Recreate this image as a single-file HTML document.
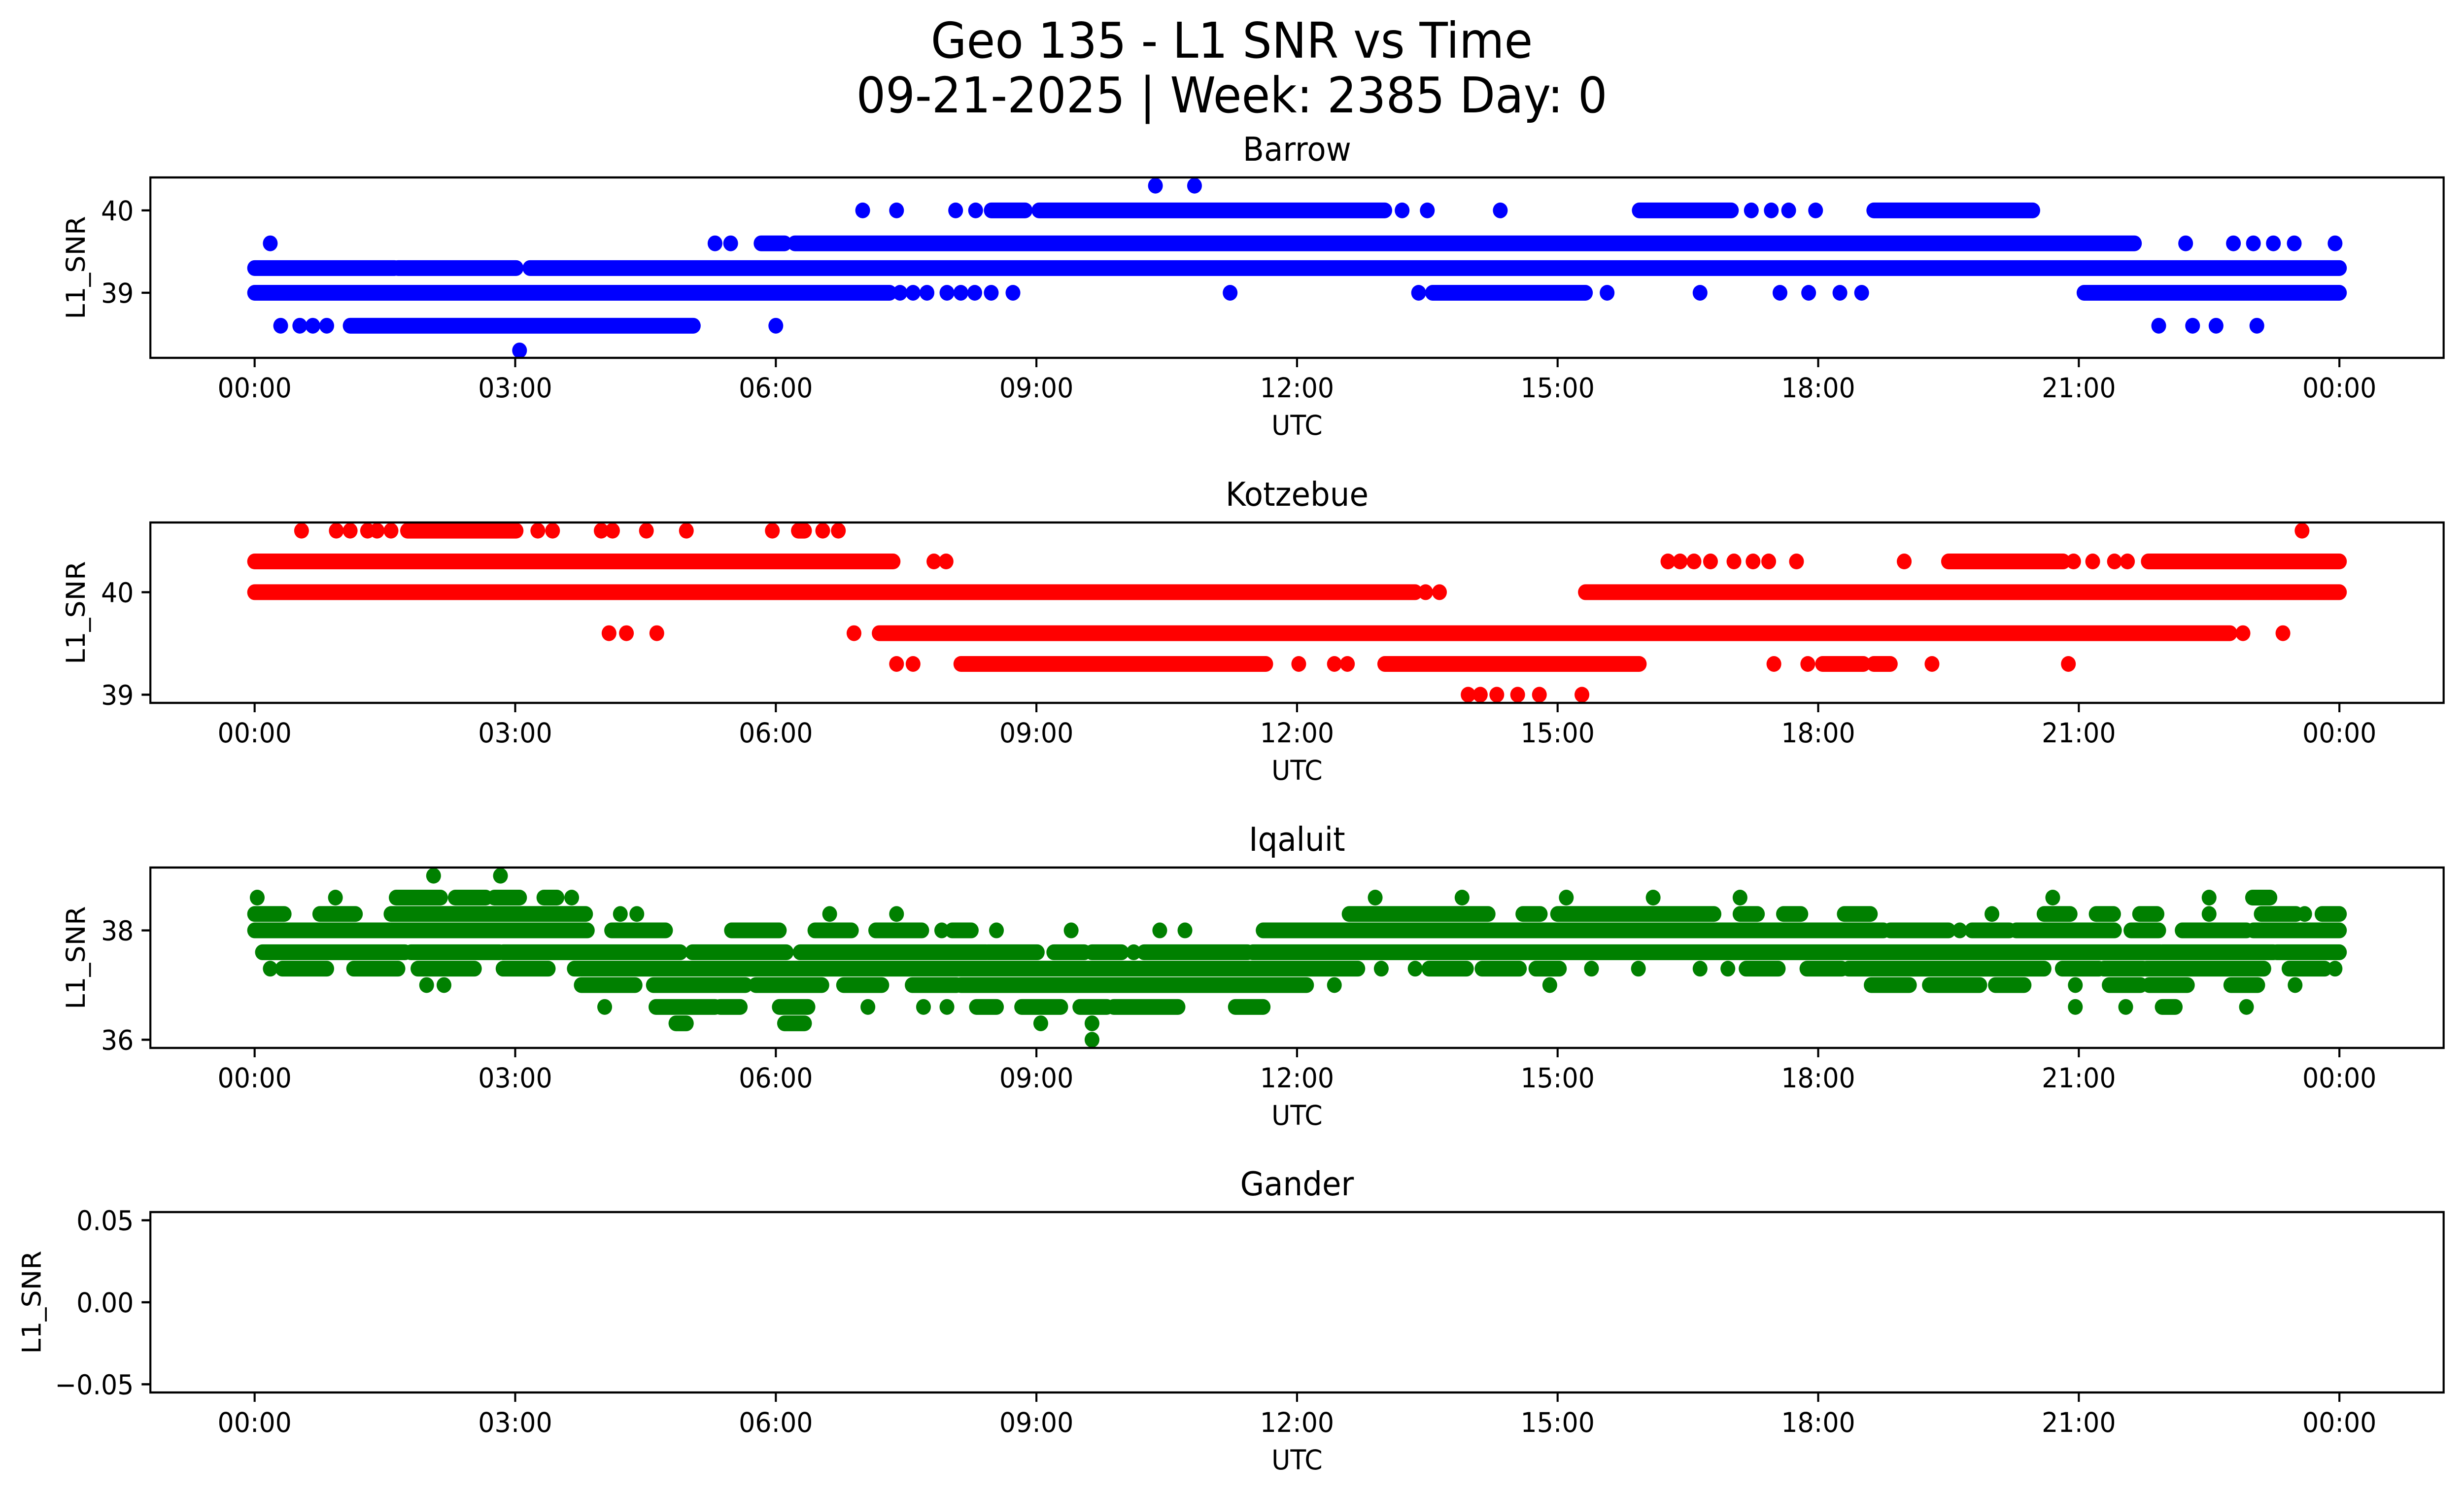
<!DOCTYPE html>
<html><head><meta charset="utf-8"><title>Geo 135 - L1 SNR vs Time</title>
<style>
html,body{margin:0;padding:0;background:#fff;width:100%;height:100%;overflow:hidden;}
svg{display:block;position:absolute;left:0;top:0;width:100vw;height:100vh;font-family:"DejaVu Sans","Liberation Sans",sans-serif;}
</style></head>
<body>
<svg id="fig" xmlns="http://www.w3.org/2000/svg" viewBox="0 0 5325 3033" preserveAspectRatio="none">
<rect x="0" y="0" width="5325" height="3033" fill="#fff"/>
<text x="2662" y="117" font-size="100" text-anchor="middle">Geo 135 - L1 SNR vs Time</text>
<text x="2662" y="228" font-size="100" text-anchor="middle">09-21-2025 | Week: 2385 Day: 0</text>
</svg>
<script>
// ---- data: segments [level, startHour, endHour]; single points have start == end ----
const stationNames = ["Barrow", "Kotzebue", "Iqaluit", "Gander"];
const stationColors = ["#0000ff", "#ff0000", "#008000", "#008000"];
const yLimits = [[38.21, 40.40], [38.92, 40.68], [35.85, 39.15], [-0.055, 0.055]];
const yTickValues = [[39, 40], [39, 40], [36, 38], [-0.05, 0, 0.05]];
const yTickLabels = [["39", "40"], ["39", "40"], ["36", "38"], ["\u22120.05", "0.00", "0.05"]];
const xTickHours = [0, 3, 6, 9, 12, 15, 18, 21, 24];
const xTickLabels = ["00:00", "03:00", "06:00", "09:00", "12:00", "15:00", "18:00", "21:00", "00:00"];

const barrowSegs = [
 [40.3,10.37,10.37],[40.3,10.82,10.82],
 [40.0,7.0,7.0],[40.0,7.39,7.39],[40.0,8.07,8.07],[40.0,8.3,8.3],[40.0,8.48,8.87],[40.0,9.03,13.01],[40.0,13.21,13.21],[40.0,13.5,13.5],[40.0,14.34,14.34],[40.0,15.94,17.0],[40.0,17.23,17.23],[40.0,17.46,17.46],[40.0,17.66,17.66],[40.0,17.97,17.97],[40.0,18.64,20.47],
 [39.6,0.18,0.18],[39.6,5.3,5.3],[39.6,5.48,5.48],[39.6,5.83,6.1],[39.6,6.22,21.64],[39.6,22.23,22.23],[39.6,22.78,22.78],[39.6,23.01,23.01],[39.6,23.24,23.24],[39.6,23.48,23.48],[39.6,23.95,23.95],
 [39.3,0,1.61],[39.3,1.65,3.01],[39.3,3.17,24],
 [39.0,0,7.31],[39.0,7.43,7.43],[39.0,7.58,7.58],[39.0,7.74,7.74],[39.0,7.97,7.97],[39.0,8.13,8.13],[39.0,8.29,8.29],[39.0,8.48,8.48],[39.0,8.73,8.73],[39.0,11.23,11.23],[39.0,13.4,13.4],[39.0,13.56,15.32],[39.0,15.57,15.57],[39.0,16.64,16.64],[39.0,17.56,17.56],[39.0,17.89,17.89],[39.0,18.25,18.25],[39.0,18.5,18.5],[39.0,21.06,24],
 [38.6,0.3,0.3],[38.6,0.52,0.52],[38.6,0.67,0.67],[38.6,0.83,0.83],[38.6,1.1,5.05],[38.6,6.0,6.0],[38.6,21.92,21.92],[38.6,22.31,22.31],[38.6,22.58,22.58],[38.6,23.05,23.05],
 [38.3,3.05,3.05]
];

const kotzebueSegs = [
 [40.6,0.54,0.54],[40.6,0.94,0.94],[40.6,1.1,1.1],[40.6,1.3,1.3],[40.6,1.41,1.41],[40.6,1.57,1.57],[40.6,1.76,3.01],[40.6,3.26,3.26],[40.6,3.43,3.43],[40.6,3.99,3.99],[40.6,4.12,4.12],[40.6,4.51,4.51],[40.6,4.97,4.97],[40.6,5.96,5.96],[40.6,6.26,6.33],[40.6,6.54,6.54],[40.6,6.72,6.72],[40.6,23.57,23.57],
 [40.3,0,7.35],[40.3,7.82,7.82],[40.3,7.96,7.96],[40.3,16.27,16.27],[40.3,16.41,16.41],[40.3,16.57,16.57],[40.3,16.76,16.76],[40.3,17.03,17.03],[40.3,17.25,17.25],[40.3,17.43,17.43],[40.3,17.75,17.75],[40.3,18.99,18.99],[40.3,19.5,20.82],[40.3,20.94,20.94],[40.3,21.16,21.16],[40.3,21.41,21.41],[40.3,21.56,21.56],[40.3,21.8,24],
 [40.0,0,13.36],[40.0,13.48,13.48],[40.0,13.64,13.64],[40.0,15.32,24],
 [39.6,4.08,4.08],[39.6,4.28,4.28],[39.6,4.63,4.63],[39.6,6.9,6.9],[39.6,7.19,22.74],[39.6,22.89,22.89],[39.6,23.35,23.35],
 [39.3,7.39,7.39],[39.3,7.58,7.58],[39.3,8.13,11.64],[39.3,12.02,12.02],[39.3,12.43,12.43],[39.3,12.58,12.58],[39.3,13.01,15.94],[39.3,17.49,17.49],[39.3,17.88,17.88],[39.3,18.05,18.52],[39.3,18.64,18.83],[39.3,19.31,19.31],[39.3,20.88,20.88],
 [39.0,13.97,13.97],[39.0,14.11,14.11],[39.0,14.3,14.3],[39.0,14.54,14.54],[39.0,14.79,14.79],[39.0,15.28,15.28]
];

const iqaluitSegs = [
 [39.0,2.06,2.06],[39.0,2.83,2.83],
 [38.6,0.03,0.03],[38.6,0.93,0.93],[38.6,1.63,2.14],[38.6,2.31,2.66],[38.6,2.76,3.05],[38.6,3.33,3.48],[38.6,3.65,3.65],
 [38.6,12.9,12.9],[38.6,13.9,13.9],[38.6,15.1,15.1],[38.6,16.1,16.1],[38.6,17.1,17.1],[38.6,20.7,20.7],[38.6,22.5,22.5],[38.6,23.0,23.2],
 [38.3,0,0.34],[38.3,0.75,1.16],[38.3,1.57,3.81],[38.3,4.21,4.21],[38.3,4.4,4.4],[38.3,6.62,6.62],[38.3,7.39,7.39],
 [38.3,12.6,14.2],[38.3,14.6,14.8],[38.3,15.0,16.8],[38.3,17.1,17.3],[38.3,17.6,17.8],[38.3,18.3,18.6],[38.3,20.0,20.0],[38.3,20.6,20.9],[38.3,21.2,21.4],[38.3,21.7,21.9],[38.3,22.5,22.5],[38.3,23.1,23.5],[38.3,23.6,23.6],[38.3,23.8,24],
 [38.0,0,3.83],[38.0,4.11,4.73],[38.0,5.49,6.04],[38.0,6.45,6.87],[38.0,7.15,7.68],[38.0,7.91,7.91],[38.0,8.03,8.25],[38.0,8.54,8.54],[38.0,9.4,9.4],[38.0,10.42,10.42],[38.0,10.71,10.71],[38.0,11.61,18.75],[38.0,18.83,19.5],[38.0,19.63,19.63],[38.0,19.77,20.2],[38.0,20.28,21.41],[38.0,21.6,21.92],[38.0,22.19,22.93],[38.0,23.01,24],
 [37.6,0.09,1.73],[37.6,1.8,2.82],[37.6,2.86,4.9],[37.6,5.04,6.12],[37.6,6.28,8.42],[37.6,8.44,9.01],[37.6,9.2,9.55],[37.6,9.64,9.98],[37.6,10.12,10.12],[37.6,10.24,11.43],[37.6,11.49,21.94],[37.6,21.96,23.24],[37.6,23.28,24],
 [37.3,0.18,0.18],[37.3,0.32,0.83],[37.3,1.14,1.65],[37.3,1.88,2.53],[37.3,2.86,3.38],[37.3,3.68,12.7],[37.3,12.97,12.97],[37.3,13.36,13.36],[37.3,13.52,13.95],[37.3,14.13,14.56],[37.3,14.75,15.02],[37.3,15.39,15.39],[37.3,15.93,15.93],[37.3,16.64,16.64],[37.3,16.96,16.96],[37.3,17.17,17.54],[37.3,17.87,18.27],[37.3,18.35,20.6],[37.3,20.81,21.23],[37.3,21.29,21.74],[37.3,21.78,23.13],[37.3,23.42,23.83],[37.3,23.95,23.95],
 [37.0,1.98,1.98],[37.0,2.18,2.18],[37.0,3.76,4.38],[37.0,4.59,5.65],[37.0,5.77,6.53],[37.0,6.78,7.22],[37.0,7.57,8.08],[37.0,8.13,12.11],[37.0,12.43,12.43],[37.0,14.91,14.91],[37.0,18.61,19.05],[37.0,19.28,19.86],[37.0,20.04,20.37],[37.0,20.96,20.96],[37.0,21.35,21.71],[37.0,21.81,22.25],[37.0,22.75,23.06],[37.0,23.49,23.49],
 [36.6,4.03,4.03],[36.6,4.62,5.3],[36.6,5.36,5.59],[36.6,6.04,6.37],[36.6,7.06,7.06],[36.6,7.7,7.7],[36.6,7.97,7.97],[36.6,8.31,8.54],[36.6,8.83,9.28],[36.6,9.5,9.81],[36.6,9.89,10.63],[36.6,11.29,11.61],[36.6,20.96,20.96],[36.6,21.54,21.54],[36.6,21.96,22.11],[36.6,22.93,22.93],
 [36.3,4.85,4.97],[36.3,6.1,6.33],[36.3,9.05,9.05],[36.3,9.64,9.64],
 [36.0,9.64,9.64]
];
const ganderSegs = [];
const allSegs = [barrowSegs, kotzebueSegs, iqaluitSegs, ganderSegs];

// ---- layout ----
const NS = "http://www.w3.org/2000/svg";
const svg = document.getElementById("fig");
const axLeft = 325, axRight = 5281, axH = 366;
const axTops = [360, 1060, 1760, 2459];
const xMin = -1.2, xMax = 25.2;
const R = 16;
function xScale(h){ return axLeft + (h - xMin) / (xMax - xMin) * (axRight - axLeft); }
function yScaleFor(i){ const lo = yLimits[i][0], hi = yLimits[i][1], top = axTops[i]; return v => top + axH - (v - lo) / (hi - lo) * axH; }
function mk(tag, attrs){ const e = document.createElementNS(NS, tag); for (const k in attrs) e.setAttribute(k, attrs[k]); return e; }

for (let i = 0; i < 4; i++) {
  const top = axTops[i], bottom = top + axH;
  const ys = yScaleFor(i);
  const g = mk("g", {});
  
  
  svg.appendChild(g);

  const clipId = "clip" + i;
  const cp = mk("clipPath", {id: clipId});
  cp.appendChild(mk("rect", {x: axLeft, y: top, width: axRight - axLeft, height: axH}));
  svg.appendChild(cp);

  const marks = mk("g", {"clip-path": "url(#" + clipId + ")", fill: stationColors[i]});
  
  
  g.appendChild(marks);
  allSegs[i].forEach(s => {
    const y = ys(s[0]), x1 = xScale(s[1]), x2 = xScale(s[2]);
    let el;
    if (s[2] > s[1]) {
      el = mk("rect", {x: x1 - R, y: y - R, width: x2 - x1 + 2 * R, height: 2 * R, rx: R, ry: R});
      
    } else {
      el = mk("circle", {cx: x1, cy: y, r: R});
      
    }
    
    marks.appendChild(el);
  });

  const frame = mk("rect", {x: axLeft, y: top, width: axRight - axLeft, height: axH, fill: "none", stroke: "#000", "stroke-width": 4.4});
  
  
  g.appendChild(frame);

  xTickHours.forEach((h, k) => {
    const x = xScale(h);
    const t = mk("line", {x1: x, y1: bottom, x2: x, y2: bottom + 19, stroke: "#000", "stroke-width": 4.4});
    
    
    g.appendChild(t);
    const lab = mk("text", {x: x, y: bottom + 80, "font-size": 55.6, "text-anchor": "middle"});
    lab.textContent = xTickLabels[k];
    
    
    g.appendChild(lab);
  });
  yTickValues[i].forEach((v, k) => {
    const y = ys(v);
    const t = mk("line", {x1: axLeft - 19, y1: y, x2: axLeft, y2: y, stroke: "#000", "stroke-width": 4.4});
    
    
    g.appendChild(t);
    const lab = mk("text", {x: axLeft - 36, y: y + 20, "font-size": 55.6, "text-anchor": "end"});
    lab.textContent = yTickLabels[i][k];
    
    
    g.appendChild(lab);
  });

  const xl = mk("text", {x: (axLeft + axRight) / 2, y: bottom + 156, "font-size": 55.6, "text-anchor": "middle"});
  xl.textContent = "UTC";
  
  
  g.appendChild(xl);

  const ylx = i === 3 ? 88 : 183;
  const yl = mk("text", {x: ylx, y: top + axH / 2, "font-size": 55.6, "text-anchor": "middle", transform: "rotate(-90 " + ylx + " " + (top + axH / 2) + ")"});
  yl.textContent = "L1_SNR";
  
  
  g.appendChild(yl);

  const tt = mk("text", {x: (axLeft + axRight) / 2, y: top - 34, "font-size": 66.7, "text-anchor": "middle"});
  tt.textContent = stationNames[i];
  
  
  g.appendChild(tt);
}
</script>
</body></html>
